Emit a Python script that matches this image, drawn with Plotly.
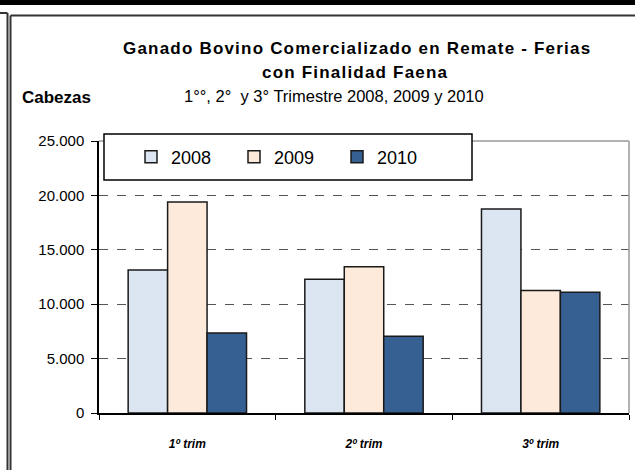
import plotly.graph_objects as go

# ======================================
# DATA
# ======================================

trimestres = ["<b><i>1º trim</i></b>", "<b><i>2º trim</i></b>", "<b><i>3º trim</i></b>"]

years = ["2008", "2009", "2010"]

cabezas_2008 = [13150, 12300, 18750]
cabezas_2009 = [19400, 13450, 11250]
cabezas_2010 = [7350, 7050, 11100]

y_ticks = [0, 5000, 10000, 15000, 20000, 25000]
y_tick_labels = ["0", "5.000", "10.000", "15.000", "20.000", "25.000"]

colors = ["#DCE6F2", "#FDEADA", "#376092"]

W, H = 635, 470


def px(x):
    return x / W


def py(y):
    return (H - y) / H


# ======================================
# FIGURE
# ======================================

fig = go.Figure()

for name, values, color in zip(
    years,
    [cabezas_2008, cabezas_2009, cabezas_2010],
    colors,
):

    fig.add_trace(
        go.Bar(
            x=trimestres,
            y=values,
            name=name,
            marker=dict(color=color, line=dict(color="#1a1a1a", width=1.5)),
        )
    )

fig.update_layout(
    width=W,
    height=H,
    margin=dict(l=0, r=0, t=0, b=0, autoexpand=False),
    paper_bgcolor="white",
    plot_bgcolor="white",
    font=dict(family="Liberation Sans, Arial, sans-serif", color="black"),
    barmode="group",
    bargap=0.33,
    bargroupgap=0,
    showlegend=True,
    legend=dict(
        orientation="h",
        x=px(131),
        y=py(157),
        xanchor="left",
        yanchor="middle",
        bgcolor="rgba(0,0,0,0)",
        entrywidth=58,
        itemwidth=30,
        font=dict(size=18),
    ),
    xaxis=dict(
        domain=[px(99), px(629)],
        automargin=False,
        showline=True,
        linecolor="black",
        linewidth=1.5,
        ticks="outside",
        ticklen=5,
        tickcolor="black",
        tickson="boundaries",
        tickfont=dict(size=12),
        ticklabelstandoff=19,
        showgrid=False,
    ),
    yaxis=dict(
        domain=[py(413), py(141)],
        automargin=False,
        range=[0, 25000],
        tickvals=y_ticks,
        ticktext=y_tick_labels,
        showline=True,
        linecolor="black",
        linewidth=1.5,
        ticks="outside",
        ticklen=6,
        tickcolor="black",
        tickfont=dict(size=15),
        ticklabelstandoff=4,
        showgrid=True,
        gridcolor="#555555",
        griddash="dash",
        gridwidth=1,
        zeroline=False,
    ),
)

# frame lines
shapes = [
    dict(type="rect", xref="paper", yref="paper", x0=0, x1=1, y0=py(5), y1=1,
         fillcolor="black", line=dict(width=0), layer="above"),
    dict(type="line", xref="paper", yref="paper", x0=0, x1=px(7.5), y0=py(13), y1=py(13),
         line=dict(color="#333333", width=2)),
    dict(type="line", xref="paper", yref="paper", x0=px(7.5), x1=px(7.5), y0=0, y1=py(13),
         line=dict(color="#333333", width=2)),
    dict(type="line", xref="paper", yref="paper", x0=px(10.5), x1=1, y0=py(15.5), y1=py(15.5),
         line=dict(color="#333333", width=2)),
    dict(type="line", xref="paper", yref="paper", x0=px(10.5), x1=px(10.5), y0=0, y1=py(15.5),
         line=dict(color="#333333", width=2)),
    # plot area top and right border
    dict(type="line", xref="paper", yref="paper", x0=px(99), x1=px(629), y0=py(141), y1=py(141),
         line=dict(color="#999999", width=1.5), layer="above"),
    dict(type="line", xref="paper", yref="paper", x0=px(629), x1=px(629), y0=py(413), y1=py(141),
         line=dict(color="#999999", width=1.5), layer="above"),
    # legend box
    dict(type="rect", xref="paper", yref="paper", x0=px(104), x1=px(472), y0=py(180), y1=py(134),
         fillcolor="white", line=dict(color="black", width=1.5), layer="above"),
]

fig.update_layout(shapes=shapes)

annotations = [
    dict(text="<b><span style='letter-spacing:1.2px'>Ganado Bovino Comercializado en Remate - Ferias</span></b>",
         x=px(357), y=py(49), font=dict(size=17)),
    dict(text="<b><span style='letter-spacing:1.2px'>con Finalidad Faena</span></b>",
         x=px(355), y=py(72), font=dict(size=17)),
    dict(text="1°°, 2°  y 3° Trimestre 2008, 2009 y 2010", x=px(334), y=py(96),
         font=dict(size=16.5)),
    dict(text="<b>Cabezas</b>", x=px(20), y=py(97), xanchor="left", font=dict(size=17)),
]

for a in annotations:
    a.setdefault("xanchor", "center")
    fig.add_annotation(
        xref="paper", yref="paper", yanchor="middle", showarrow=False, **a
    )

fig.write_html(
    "out.html",
    config={"displayModeBar": False},
    post_script="document.body.style.margin='0';",
)
